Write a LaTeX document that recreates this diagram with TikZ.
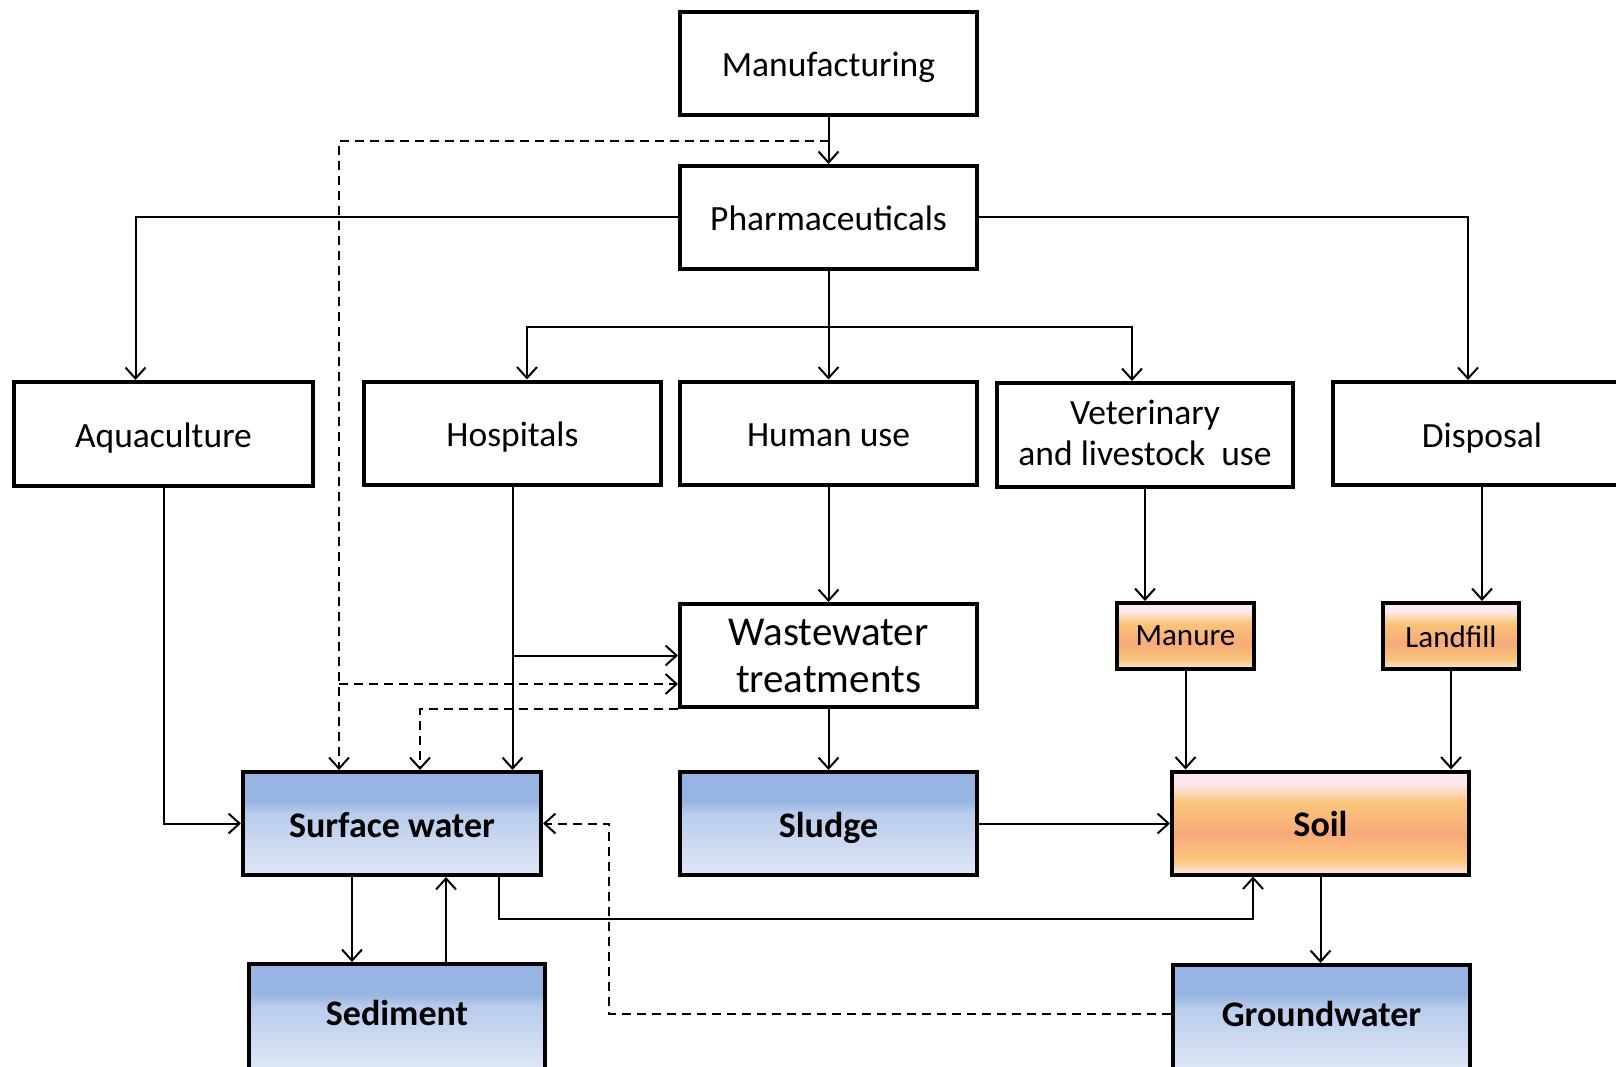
\documentclass[tikz,border=0pt]{standalone}
\usepackage{fontspec}
\setmainfont{Carlito}
\usetikzlibrary{arrows.meta,calc}
\definecolor{bA}{RGB}{151,180,226}
\definecolor{bB}{RGB}{185,204,236}
\definecolor{bC}{RGB}{224,231,246}
\definecolor{pW}{RGB}{252,232,238}
\definecolor{pY}{RGB}{250,198,122}
\definecolor{pS}{RGB}{248,170,122}
\definecolor{pL}{RGB}{252,228,222}
\pgfdeclareverticalshading{bluegrad}{100bp}{color(0bp)=(bC); color(25bp)=(bC); color(55bp)=(bB); color(61bp)=(bA); color(75bp)=(bA); color(100bp)=(bA)}
\pgfdeclareverticalshading{peachgrad}{100bp}{color(0bp)=(pL); color(26bp)=(pL); color(32bp)=(pY); color(45bp)=(pS); color(60bp)=(pY); color(69bp)=(pW); color(75bp)=(pW); color(100bp)=(pW)}
\tikzset{
  box/.style={draw, line width=4pt, minimum width=297pt, minimum height=103pt, inner sep=0pt, align=center, fill=white, font=\fontsize{35.5}{42}\selectfont},
  oneline/.style={text height=27pt, text depth=0pt},
  bluebox/.style={box, shade, shading=bluegrad, oneline, font=\fontsize{36}{43}\selectfont\bfseries},
  peachbox/.style={box, shade, shading=peachgrad},
  smallbox/.style={peachbox, minimum width=137pt, minimum height=66pt, font=\fontsize{31}{37}\selectfont},
  conn/.style={line width=2pt},
  arr/.style={conn, -{Straight Barb[length=11pt,width=20pt]}},
  dsh/.style={dash pattern=on 9pt off 6pt}
}
\begin{document}
\begin{tikzpicture}[x=1pt,y=-1pt]
\clip (0,0) rectangle (1616,1067);
\fill[white] (0,0) rectangle (1616,1067);
% nodes
\node[box, oneline] (man) at (828.5,63.5) {Manufacturing};
\node[box, oneline] (pha) at (828.5,217.5) {Pharmaceuticals};
\node[box, oneline, minimum width=299pt, minimum height=104pt] (aqu) at (163.5,434) {Aquaculture};
\node[box, oneline] (hos) at (512.5,433) {Hospitals};
\node[box, oneline] (hum) at (828.5,433) {Human use};
\node[box, minimum width=296pt, minimum height=104pt, text height=49pt, text depth=33pt] (vet) at (1145,435) {\begin{tabular}{@{}c@{}}Veterinary\\[-1pt]and livestock~ use\end{tabular}};
\node[box, oneline, minimum width=298pt] (dis) at (1482,433.5) {Disposal};
\node[box, font=\fontsize{41}{47}\selectfont] (ww) at (828.5,655.5) {Wastewater\\treatments};
\node[smallbox, text height=18pt, text depth=0pt] (manure) at (1185.5,636) {Manure};
\node[smallbox, text height=22pt, text depth=0pt, minimum width=136pt] (land) at (1451,636) {Landfill};
\node[bluebox, minimum width=298pt] (sw) at (392,823.5) {Surface water};
\node[bluebox] (sludge) at (828.5,823.5) {Sludge};
\node[peachbox, oneline, font=\fontsize{36}{43}\selectfont\bfseries] (soil) at (1320.5,823) {Soil};
\node[bluebox, text height=16pt, minimum width=296pt, minimum height=106pt] (sed) at (397,1017) {Sediment};
\node[bluebox, text height=16pt, minimum height=106pt] (gw) at (1321.5,1018) {Groundwater};
% helper coordinates
\coordinate (d1) at (828.5,141);
\coordinate (d2) at (339,684);
\coordinate (br) at (828.5,327);
% connectors
\draw[arr] (man.south) -- (pha.north);
\draw[arr,dsh] (d1) -| (sw.north -| d2);
\draw[arr,dsh] (d2) -- (ww.west |- d2);
\draw[arr] (pha.west) -| ([xshift=-28pt]aqu.north);
\draw[arr] (pha.east) -| ([xshift=-14pt]dis.north);
\draw[conn] (pha.south) -- (br);
\draw[arr] (br) -- (hum.north);
\draw[arr] (br) -| ([xshift=14.5pt]hos.north);
\draw[arr] (br) -| ([xshift=-13pt]vet.north);
\draw[arr] (aqu.south) |- (sw.west);
\draw[arr] (hos.south) -- (sw.north -| hos.south);
\draw[arr] (hos.south |- ww) -- (ww.west);
\draw[arr] (hum.south) -- (ww.north);
\draw[arr,dsh] (ww.south west) -| ([xshift=28pt]sw.north);
\draw[arr] (ww.south) -- (sludge.north);
\draw[arr] (sludge.east) -- (sludge.east -| soil.west);
\draw[arr] (vet.south) -- (vet.south |- manure.north);
\draw[arr] (dis.south) -- (dis.south |- land.north);
\draw[arr] (manure.south) -- (manure.south |- soil.north);
\draw[arr] (land.south) -- (land.south |- soil.north);
\draw[arr] ([xshift=-40pt]sw.south) -- ([xshift=-40pt]sw.south |- sed.north);
\draw[arr] ([xshift=54pt]sw.south |- sed.north) -- ([xshift=54pt]sw.south);
\draw[arr] ([xshift=107pt]sw.south) -- ++(0,42) -| ([xshift=-67.5pt]soil.south);
\draw[arr] (soil.south) -- (soil.south |- gw.north);
\draw[arr,dsh] ([yshift=4pt]gw.west) -| ([xshift=66pt]sw.east) -- (sw.east);
\end{tikzpicture}
\end{document}
